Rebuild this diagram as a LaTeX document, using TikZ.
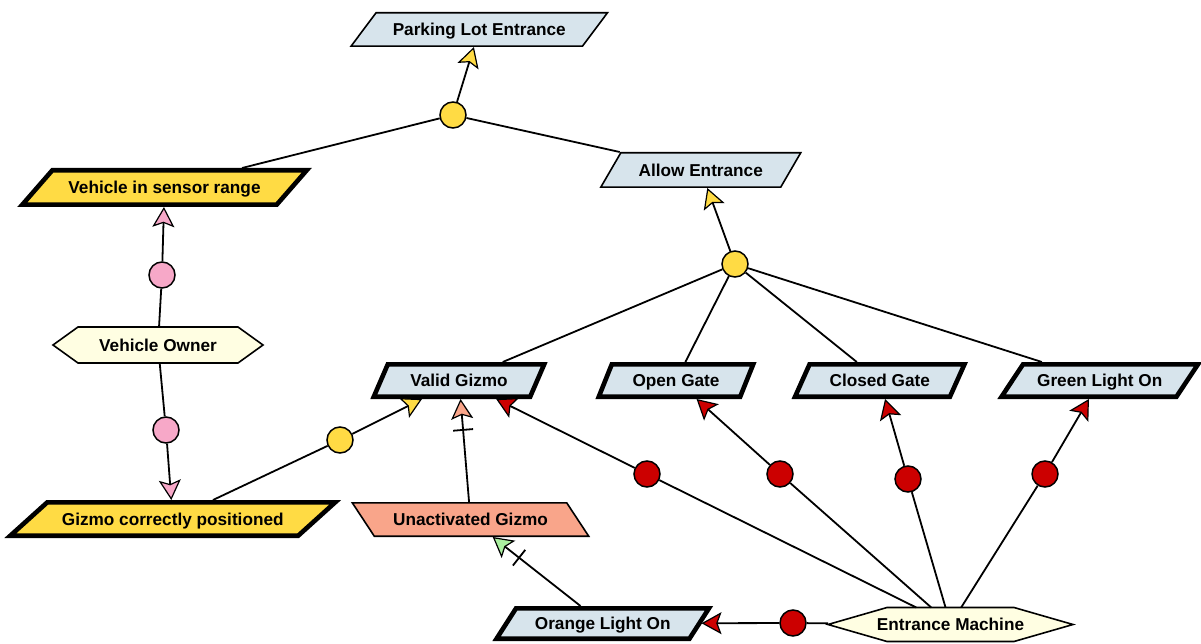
\documentclass[tikz,border=0pt]{standalone}
\usepackage{fontspec}
\setmainfont{Liberation Sans}
\usetikzlibrary{arrows.meta,calc}

\definecolor{boxblue}{RGB}{215,228,236}
\definecolor{gold}{RGB}{255,219,68}
\definecolor{rose}{RGB}{247,168,200}
\definecolor{salmon}{RGB}{249,165,138}
\definecolor{cream}{RGB}{255,254,226}
\definecolor{signalred}{RGB}{204,0,0}
\definecolor{mint}{RGB}{170,240,160}

% parallelogram: style, name, cx, cy, half width, half height, slant, border inset, text
\newcommand\pgbox[9]{%
  \draw[#1] ({#3-(#5-#8)+(#7)},{#4-(#6-#8)}) -- ({#3+(#5-#8)+(#7)},{#4-(#6-#8)})
        -- ({#3+(#5-#8)-(#7)},{#4+(#6-#8)}) -- ({#3-(#5-#8)-(#7)},{#4+(#6-#8)}) -- cycle;
  \node[boxtext, minimum width={2*(#5)}, minimum height={2*(#6)}] (#2) at (#3,#4) {#9};
}
% hexagon: name, cx, cy, half width, half height, point inset, text
\newcommand\hexbox[7]{%
  \draw[actor] ({#2-(#4)},#3) -- ({#2-(#4)+(#6)},{#3-(#5)}) -- ({#2+(#4)-(#6)},{#3-(#5)})
        -- ({#2+(#4)},#3) -- ({#2+(#4)-(#6)},{#3+(#5)}) -- ({#2-(#4)+(#6)},{#3+(#5)}) -- cycle;
  \node[boxtext, minimum width={2*(#4)}, minimum height={2*(#5)}] (#1) at (#2,#3) {#7};
}

\tikzset{
  boxtext/.style={inner sep=0pt, outer sep=0pt, text=black,
    text height=12.4pt, text depth=0pt,
    font=\bfseries\fontsize{17.2}{20}\selectfont},
  thinbox/.style={draw=black, line width=1.6pt, line join=miter},
  thickbox/.style={draw=black, line width=4.6pt, line join=miter},
  actor/.style={draw=black, line width=1.6pt, fill=cream, line join=miter},
  junction/.style={circle, draw=black, line width=1.5pt, minimum size=26pt, inner sep=0pt},
  link/.style={draw=black, line width=1.8pt},
  tipgold/.style={-{Stealth[length=20pt, width=22pt, inset=4pt, line width=1.2pt, fill=gold]}},
  tiprose/.style={-{Stealth[length=20pt, width=22pt, inset=4pt, line width=1.2pt, fill=rose]}},
  tipred/.style={-{Stealth[length=20pt, width=22pt, inset=4pt, line width=1.2pt, fill=signalred]}},
  tipsalmon/.style={-{Stealth[length=20pt, width=22pt, inset=4pt, line width=1.2pt, fill=salmon]}},
  tipmint/.style={-{Stealth[length=20pt, width=22pt, inset=4pt, line width=1.2pt, fill=mint]}},
  tick/.style={sloped, draw=black, line width=1.8pt, minimum width=0pt,
    minimum height=20pt, inner sep=0pt, outer sep=0pt},
}

\begin{document}
\begin{tikzpicture}[x=1pt,y=-1pt]
\useasboundingbox (0,0) rectangle (1201,644);

% goals and conditions
\pgbox{thinbox, fill=boxblue}{ple}{479.25}{29.5}{116.5}{17.5}{12.5}{0.8}{Parking Lot Entrance}
\pgbox{thinbox, fill=boxblue}{ae}{700.75}{170}{90.75}{18}{10}{0.8}{Allow Entrance}
\pgbox{thickbox, fill=gold}{vsr}{164.5}{187.5}{129.5}{19.5}{15}{2.3}{Vehicle in sensor range}
\pgbox{thickbox, fill=gold}{gcp}{172.75}{519}{146.25}{19}{18.5}{2.3}{Gizmo correctly positioned}
\pgbox{thickbox, fill=boxblue}{vg}{459}{380.5}{80.5}{18.5}{7}{2.3}{Valid Gizmo}
\pgbox{thickbox, fill=boxblue}{og}{676}{380.5}{73}{18.5}{6.5}{2.3}{Open Gate}
\pgbox{thickbox, fill=boxblue}{cg}{879.75}{380.5}{79.75}{18.5}{7.25}{2.3}{Closed Gate}
\pgbox{thickbox, fill=boxblue}{glo}{1099.75}{380.5}{89.75}{18.5}{10.75}{2.3}{Green Light On}
\pgbox{thinbox, fill=salmon}{ug}{470.5}{519.5}{108}{17.5}{-11}{0.8}{Unactivated Gizmo}
\pgbox{thickbox, fill=boxblue}{olo}{602.75}{623.5}{98.75}{17.5}{9.75}{2.3}{Orange Light On}

% agents
\hexbox{vo}{158}{345}{105}{18}{25}{Vehicle Owner}
\hexbox{em}{950.5}{624.5}{122.5}{17}{59}{Entrance Machine}

% junctions
\node[junction, fill=gold] (j1) at (453,115) {};
\node[junction, fill=gold] (j2) at (735,264) {};
\node[junction, fill=gold] (j3) at (340,440) {};
\node[junction, fill=rose] (p1) at (162,275) {};
\node[junction, fill=rose] (p2) at (166,430) {};
\node[junction, fill=signalred] (r1) at (647,474) {};
\node[junction, fill=signalred] (r2) at (780,474) {};
\node[junction, fill=signalred] (r3) at (908,479) {};
\node[junction, fill=signalred] (r4) at (1045,474) {};
\node[junction, fill=signalred] (r5) at (793,623) {};

% refinement links
\draw[link, tipgold] (j1) -- (ple);
\draw[link] (j1) -- (vsr);
\draw[link] (j1) -- (ae);
\draw[link, tipgold] (j2) -- (ae);
\draw[link] (j2) -- (vg);
\draw[link] (j2) -- (og);
\draw[link] (j2) -- (cg);
\draw[link] (j2) -- (glo);

% responsibilities of the vehicle owner
\draw[link] (vo) -- (p1);
\draw[link, tiprose] (p1) -- (vsr);
\draw[link] (vo) -- (p2);
\draw[link, tiprose] (p2) -- (gcp);

% gizmo validity
\draw[link] (gcp) -- (j3);
\draw[link, tipgold] (j3) -- (vg);
\draw[link, tipsalmon] (ug) -- node[tick, pos=0.7] (t1) {} (vg);
\draw[link, tipmint] (olo) -- node[tick, pos=0.7] (t2) {} (ug);

% responsibilities of the entrance machine
\draw[link] (em) -- (r1);
\draw[link, tipred] (r1) -- (vg);
\draw[link] (em) -- (r2);
\draw[link, tipred] (r2) -- (og);
\draw[link] (em) -- (r3);
\draw[link, tipred] (r3) -- (cg);
\draw[link] (em) -- (r4);
\draw[link, tipred] (r4) -- (glo);
\draw[link] (em) -- (r5);
\draw[link, tipred] (r5) -- (olo);
\end{tikzpicture}
\end{document}
